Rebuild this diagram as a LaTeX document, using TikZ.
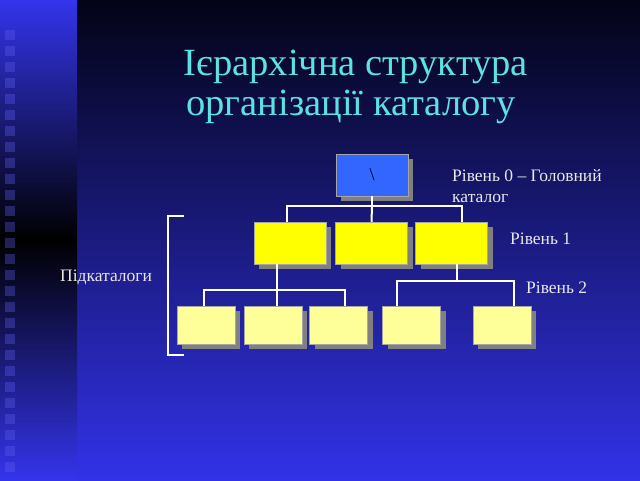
\documentclass[tikz,border=0pt]{standalone}
\usepackage{fontspec}
\setmainfont{Liberation Serif}
\usetikzlibrary{shadows}

\definecolor{slidetop}{RGB}{3,3,22}
\definecolor{slidebottom}{RGB}{50,50,232}
\definecolor{stripblue}{RGB}{52,52,236}
\definecolor{titlecyan}{RGB}{92,226,226}
\definecolor{labelgray}{RGB}{232,232,232}
\definecolor{rootblue}{RGB}{51,102,255}
\definecolor{levelyellow}{RGB}{255,255,0}
\definecolor{subyellow}{RGB}{255,255,153}
\definecolor{shadowgray}{RGB}{128,128,128}

\tikzset{
    dirbox/.style={draw=gray!70, line width=0.5pt, inner sep=0pt,
        drop shadow={shadow xshift=5pt, shadow yshift=-5pt,
            fill=shadowgray, opacity=1}},
    wire/.style={white, line width=2pt},
    level/.style={labelgray, font=\fontsize{17.5}{20}\selectfont,
        anchor=base west, inner sep=0pt}
}

\begin{document}
\begin{tikzpicture}[x=1pt, y=-1pt]

    \useasboundingbox (0, 0) rectangle (640, 480);

    % background
    \shade[top color=slidetop, bottom color=slidebottom] (77, 0) rectangle (640, 480);
    \shade[top color=stripblue, bottom color=stripblue, middle color=black] (0, 0) rectangle (77, 480);
    \foreach \i in {0,...,27}
        \fill[stripblue!80!white, opacity=0.35] (5, 30 + 16*\i) rectangle (15, 40 + 16*\i);

    % title
    \node[titlecyan, font=\fontsize{38.5}{40}\selectfont, anchor=base] (title1)
        at (356, 75) {Ієрархічна структура};
    \node[titlecyan, font=\fontsize{38.5}{40}\selectfont, anchor=base] (title2)
        at (351, 115) {організації каталогу};

    % level 0
    \node[dirbox, fill=rootblue, minimum width=72, minimum height=42,
        font=\fontsize{18}{20}\selectfont] (root) at (372, 175) {\textbackslash};

    % level 1
    \node[dirbox, fill=levelyellow, minimum width=72, minimum height=42] (d1) at (290, 243) {};
    \node[dirbox, fill=levelyellow, minimum width=72, minimum height=42] (d2) at (371.5, 243) {};
    \node[dirbox, fill=levelyellow, minimum width=72, minimum height=42] (d3) at (451.5, 243) {};

    % level 2
    \node[dirbox, fill=subyellow, minimum width=58, minimum height=38] (s1) at (206, 325) {};
    \node[dirbox, fill=subyellow, minimum width=58, minimum height=38] (s2) at (273, 325) {};
    \node[dirbox, fill=subyellow, minimum width=58, minimum height=38] (s3) at (338.5, 325) {};
    \node[dirbox, fill=subyellow, minimum width=58, minimum height=38] (s4) at (411.5, 325) {};
    \node[dirbox, fill=subyellow, minimum width=58, minimum height=38] (s5) at (502, 325) {};

    % connectors
    \coordinate (bus0) at (372, 206);
    \coordinate (bus1) at (277, 290);
    \coordinate (bus2) at (457, 281);

    \draw[wire] (root.south) -- (bus0);
    \draw[wire] ([xshift=-3pt]d1.north) |- (bus0) -| ([xshift=10.5pt]d3.north);
    \draw[wire] (bus0) -- (d2.north);

    \draw[wire] ([xshift=-13pt]d1.south) -- (bus1);
    \draw[wire] ([xshift=-2pt]s1.north) |- (bus1) -| ([xshift=6.5pt]s3.north);
    \draw[wire] (bus1) -- ([xshift=4pt]s2.north);

    \draw[wire] ([xshift=5.5pt]d3.south) -- (bus2);
    \draw[wire] ([xshift=-14.5pt]s4.north) |- (bus2) -| ([xshift=12pt]s5.north);

    % bracket
    \coordinate (brtop) at (184, 216);
    \coordinate (brbot) at (184, 355);
    \draw[white, line width=1.5pt] (brtop) -- ++(-16, 0) |- (brbot);

    \node[level] (subdirs) at (60, 281) {Підкаталоги};

    % levels
    \node[level] (lev0) at (452, 181) {Рівень 0 – Головний};
    \node[level] (lev0b) at (452, 202) {каталог};
    \node[level] (lev1) at (510, 244) {Рівень 1};
    \node[level] (lev2) at (526, 293) {Рівень 2};

\end{tikzpicture}
\end{document}
